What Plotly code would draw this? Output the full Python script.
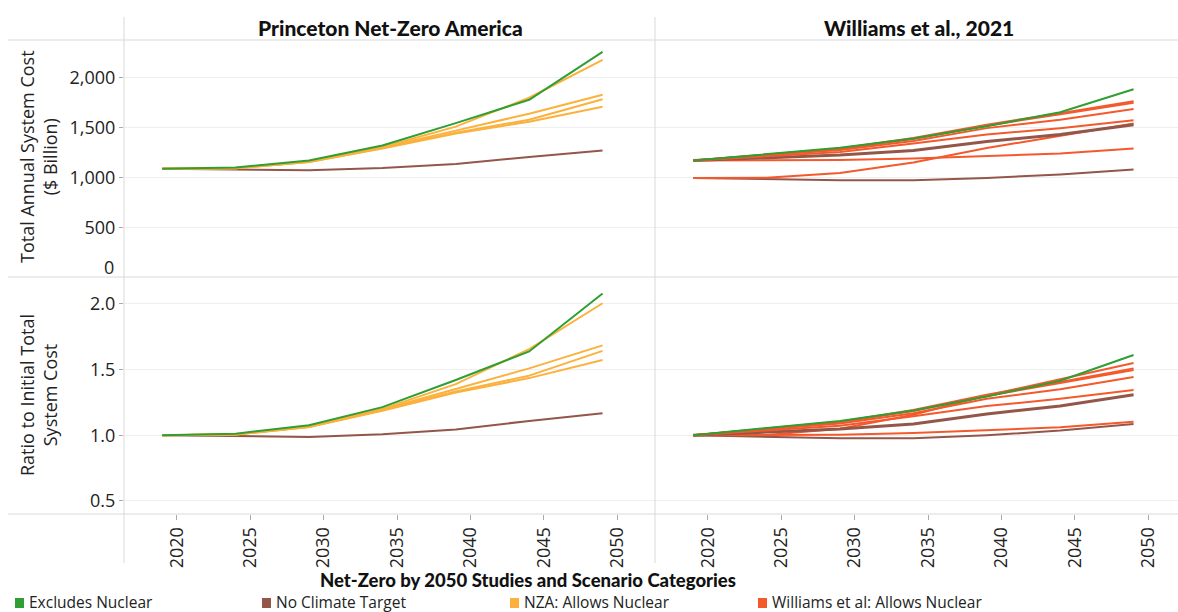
import plotly.graph_objects as go

# ---------------- data ----------------
YEARS = [2019, 2024, 2029, 2034, 2039, 2044, 2049]
TICK_YEARS = [2020, 2025, 2030, 2035, 2040, 2045, 2050]
COST_TICKS = [500, 1000, 1500, 2000]
RATIO_TICKS = [0.5, 1.0, 1.5, 2.0]
RATIO_TICKTEXT = ["0.5", "1.0", "1.5", "2.0"]

STUDIES = ["Princeton Net-Zero America", "Williams et al., 2021"]
CATEGORIES = ["Excludes Nuclear", "No Climate Target", "NZA: Allows Nuclear", "Williams et al: Allows Nuclear"]
CAT_COLORS = ["#2f9e34", "#93574a", "#fbb13c", "#f4592c"]
LEGEND_TITLE = "Net-Zero by 2050 Studies and Scenario Categories"

# Princeton Net-Zero America: total annual system cost ($ billion)
nza_excl_cost = [1087, 1100, 1170, 1320, 1545, 1780, 2260]
nza_noclim_cost = [1087, 1080, 1073, 1095, 1135, 1205, 1270]
nza_allow1_cost = [1087, 1095, 1160, 1305, 1510, 1800, 2180]
nza_allow2_cost = [1087, 1093, 1158, 1300, 1470, 1640, 1830]
nza_allow3_cost = [1087, 1092, 1155, 1295, 1450, 1580, 1785]
nza_allow4_cost = [1087, 1092, 1155, 1290, 1440, 1560, 1710]

# Princeton Net-Zero America: ratio to initial total system cost
nza_excl_ratio = [1.0, 1.012, 1.076, 1.214, 1.421, 1.638, 2.079]
nza_noclim_ratio = [1.0, 0.994, 0.987, 1.007, 1.044, 1.109, 1.168]
nza_allow1_ratio = [1.0, 1.007, 1.067, 1.201, 1.389, 1.656, 2.005]
nza_allow2_ratio = [1.0, 1.005, 1.065, 1.196, 1.352, 1.509, 1.684]
nza_allow3_ratio = [1.0, 1.005, 1.063, 1.191, 1.334, 1.454, 1.642]
nza_allow4_ratio = [1.0, 1.005, 1.063, 1.187, 1.325, 1.435, 1.573]

# Williams et al., 2021: total annual system cost ($ billion)
wil_excl_cost = [1170, 1237, 1297, 1390, 1515, 1655, 1885]
wil_noclim1_cost = [1170, 1200, 1225, 1270, 1360, 1430, 1530]
wil_noclim2_cost = [995, 985, 972, 972, 995, 1030, 1080]
wil_allow1_cost = [1170, 1232, 1290, 1395, 1530, 1645, 1765]
wil_allow2_cost = [1170, 1228, 1285, 1385, 1520, 1635, 1750]
wil_allow3_cost = [1170, 1222, 1275, 1365, 1495, 1580, 1688]
wil_allow4_cost = [1170, 1210, 1255, 1340, 1430, 1495, 1573]
wil_allow5_cost = [995, 997, 1045, 1150, 1295, 1420, 1542]
wil_allow6_cost = [1170, 1175, 1175, 1190, 1215, 1240, 1290]

# Williams et al., 2021: ratio to initial total system cost
wil_excl_ratio = [1.0, 1.057, 1.109, 1.188, 1.295, 1.415, 1.611]
wil_noclim1_ratio = [1.0, 1.026, 1.047, 1.085, 1.162, 1.222, 1.308]
wil_noclim2_ratio = [1.0, 0.990, 0.977, 0.977, 1.0, 1.035, 1.085]
wil_allow1_ratio = [1.0, 1.053, 1.103, 1.192, 1.308, 1.406, 1.509]
wil_allow2_ratio = [1.0, 1.050, 1.098, 1.184, 1.299, 1.397, 1.496]
wil_allow3_ratio = [1.0, 1.044, 1.090, 1.167, 1.278, 1.350, 1.443]
wil_allow4_ratio = [1.0, 1.034, 1.073, 1.145, 1.222, 1.278, 1.344]
wil_allow5_ratio = [1.0, 1.002, 1.050, 1.156, 1.302, 1.427, 1.550]
wil_allow6_ratio = [1.0, 1.004, 1.004, 1.017, 1.038, 1.060, 1.103]

# (study index, category index, cost series, ratio series, line width)
SERIES = [
    (0, 1, nza_noclim_cost, nza_noclim_ratio, 2),
    (0, 2, nza_allow4_cost, nza_allow4_ratio, 2),
    (0, 2, nza_allow3_cost, nza_allow3_ratio, 2),
    (0, 2, nza_allow2_cost, nza_allow2_ratio, 2),
    (0, 2, nza_allow1_cost, nza_allow1_ratio, 2),
    (0, 0, nza_excl_cost, nza_excl_ratio, 2),
    (1, 1, wil_noclim2_cost, wil_noclim2_ratio, 2),
    (1, 3, wil_allow6_cost, wil_allow6_ratio, 2),
    (1, 3, wil_allow5_cost, wil_allow5_ratio, 2),
    (1, 1, wil_noclim1_cost, wil_noclim1_ratio, 3),
    (1, 3, wil_allow4_cost, wil_allow4_ratio, 2),
    (1, 3, wil_allow3_cost, wil_allow3_ratio, 2),
    (1, 3, wil_allow2_cost, wil_allow2_ratio, 2),
    (1, 3, wil_allow1_cost, wil_allow1_ratio, 2),
    (1, 0, wil_excl_cost, wil_excl_ratio, 2),
]

# ---------------- layout helpers ----------------
W, H = 1178, 612
def px_x(p):
    return p / W
def px_y(p):
    return 1 - p / H

FONT = "Open Sans"
HEAVY_FONT = "Lato"
TEXT = "#222222"
GRID = "#eeeeee"
BORDER = "#d9d9d9"
TICK_SIZE = 18

fig = go.Figure()

for study, cat, cost, ratio, lw in SERIES:
    top_axes = ("x", "y") if study == 0 else ("x2", "y2")
    bot_axes = ("x3", "y3") if study == 0 else ("x4", "y4")
    color = CAT_COLORS[cat]
    fig.add_trace(go.Scatter(x=YEARS, y=cost, mode="lines", xaxis=top_axes[0], yaxis=top_axes[1],
                             line=dict(color=color, width=lw), showlegend=False,
                             name=CATEGORIES[cat], hoverinfo="skip"))
    fig.add_trace(go.Scatter(x=YEARS, y=ratio, mode="lines", xaxis=bot_axes[0], yaxis=bot_axes[1],
                             line=dict(color=color, width=lw), showlegend=False,
                             name=CATEGORIES[cat], hoverinfo="skip"))

LEFT_DOM = [px_x(124), px_x(655)]
RIGHT_DOM = [px_x(655), 1.0]
TOP_DOM = [px_y(277), px_y(40)]
BOT_DOM = [px_y(514), px_y(277)]
PXPY = 14.68
LEFT_RANGE = [2016.4, 2016.4 + 531 / PXPY]
RIGHT_RANGE = [2016.4, 2016.4 + 523 / PXPY]

tickfont = dict(size=TICK_SIZE, color=TEXT, family=FONT)
base_x = dict(showgrid=False, zeroline=False, showline=False, tickvals=TICK_YEARS,
              ticktext=[str(t) for t in TICK_YEARS])
fig.update_layout(
    xaxis=dict(base_x, domain=LEFT_DOM, range=LEFT_RANGE, anchor="y", showticklabels=False, ticks=""),
    xaxis2=dict(base_x, domain=RIGHT_DOM, range=RIGHT_RANGE, anchor="y2", showticklabels=False, ticks=""),
    xaxis3=dict(base_x, domain=LEFT_DOM, range=LEFT_RANGE, anchor="y3", ticks="outside", ticklen=5,
                tickcolor="#aaaaaa", tickangle=-90, tickfont=tickfont),
    xaxis4=dict(base_x, domain=RIGHT_DOM, range=RIGHT_RANGE, anchor="y4", ticks="outside", ticklen=5,
                tickcolor="#aaaaaa", tickangle=-90, tickfont=tickfont),
    yaxis=dict(domain=TOP_DOM, range=[0, 2380], anchor="x", tickvals=COST_TICKS, tickformat=",",
               ticks="outside", ticklen=4, tickcolor="#aaaaaa", showgrid=True, gridcolor=GRID,
               zeroline=False, showline=False, tickfont=tickfont),
    yaxis2=dict(domain=TOP_DOM, range=[0, 2380], anchor="x2", tickvals=COST_TICKS, showticklabels=False,
                ticks="", showgrid=True, gridcolor=GRID, zeroline=False, showline=False),
    yaxis3=dict(domain=BOT_DOM, range=[0.40, 2.205], anchor="x3", tickvals=RATIO_TICKS, ticktext=RATIO_TICKTEXT,
                ticks="outside", ticklen=4, tickcolor="#aaaaaa", showgrid=True, gridcolor=GRID,
                zeroline=False, showline=False, tickfont=tickfont),
    yaxis4=dict(domain=BOT_DOM, range=[0.40, 2.205], anchor="x4", tickvals=RATIO_TICKS, showticklabels=False,
                ticks="", showgrid=True, gridcolor=GRID, zeroline=False, showline=False),
)

shapes = []
for yy in (40, 277, 514):
    shapes.append(dict(type="line", xref="paper", yref="paper", x0=px_x(8), x1=1.0,
                       y0=px_y(yy), y1=px_y(yy), line=dict(color=BORDER, width=1)))
for xx in (124, 655):
    shapes.append(dict(type="line", xref="paper", yref="paper", x0=px_x(xx), x1=px_x(xx),
                       y0=px_y(17), y1=px_y(563), line=dict(color=BORDER, width=1)))

heavy = dict(color="#111111", family=HEAVY_FONT, weight=900)
annotations = [
    dict(text=STUDIES[0], x=px_x(390), y=px_y(28), xref="paper", yref="paper", xanchor="center",
         yanchor="middle", showarrow=False, font=dict(heavy, size=21)),
    dict(text=STUDIES[1], x=px_x(919), y=px_y(28), xref="paper", yref="paper", xanchor="center",
         yanchor="middle", showarrow=False, font=dict(heavy, size=21)),
    dict(text="Total Annual System Cost<br>($ Billion)", x=px_x(38), y=px_y(157), xref="paper",
         yref="paper", xanchor="center", yanchor="middle", showarrow=False, textangle=-90,
         font=dict(size=TICK_SIZE, color=TEXT, family=FONT)),
    dict(text="Ratio to Initial Total<br>System Cost", x=px_x(38), y=px_y(395), xref="paper",
         yref="paper", xanchor="center", yanchor="middle", showarrow=False, textangle=-90,
         font=dict(size=TICK_SIZE, color=TEXT, family=FONT)),
    dict(text="0", x=px_x(116), y=px_y(267), xref="paper", yref="paper", xanchor="right",
         yanchor="middle", showarrow=False, font=tickfont),
    dict(text=LEGEND_TITLE, x=px_x(528), y=px_y(580), xref="paper", yref="paper", xanchor="center",
         yanchor="middle", showarrow=False, borderpad=0, font=dict(heavy, size=18.5)),
]

# category key (square swatch + label)
KEY_LEFT = [15, 262, 510, 758]
for left, name, color in zip(KEY_LEFT, CATEGORIES, CAT_COLORS):
    shapes.append(dict(type="rect", xref="paper", yref="paper", x0=px_x(left), x1=px_x(left + 9),
                       y0=px_y(608), y1=px_y(598), fillcolor=color, line=dict(width=0)))
    annotations.append(dict(text=name, x=px_x(left + 13), y=px_y(602), xref="paper", yref="paper",
                            xanchor="left", yanchor="middle", showarrow=False, borderpad=0,
                            font=dict(size=15.5, color=TEXT, family=FONT)))

fig.update_layout(
    width=W, height=H, margin=dict(l=0, r=0, t=0, b=0),
    paper_bgcolor="white", plot_bgcolor="white",
    font=dict(family=FONT, size=15, color=TEXT),
    shapes=shapes, annotations=annotations,
    showlegend=False,
)

fig.write_html("out.html", config={"displayModeBar": False},
               post_script="document.body.style.margin='0';document.body.style.overflow='hidden';")
